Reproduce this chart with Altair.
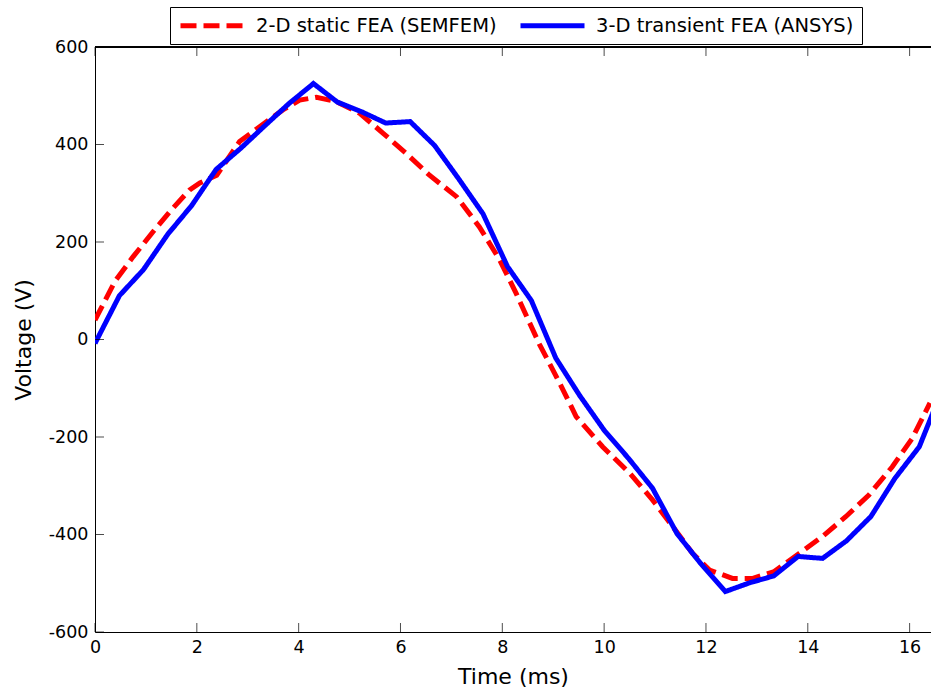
import altair as alt
import pandas as pd

# ---- data ----
SERIES = ["2-D static FEA (SEMFEM)", "3-D transient FEA (ANSYS)"]

t_red = [0.0, 0.39, 0.75, 1.14, 1.50, 1.86, 2.06, 2.39, 2.84, 3.24, 3.69, 4.02, 4.35,
         4.74, 5.20, 5.66, 6.11, 6.57, 7.10, 7.55, 7.95, 8.27, 8.73, 9.12, 9.45, 9.97,
         10.50, 10.95, 11.35, 11.74, 12.07, 12.52, 12.92, 13.34, 13.83, 14.29, 14.75,
         15.20, 15.66, 16.05, 16.40]
v_red = [40, 119, 170, 221, 266, 307, 321, 337, 406, 437, 471, 491, 497,
         488, 464, 423, 382, 337, 293, 231, 163, 95, -10, -88, -158, -220,
         -274, -329, -384, -439, -473, -490, -490, -476, -439, -404, -363,
         -319, -261, -203, -130]

t_blue = [0.0, 0.48, 0.95, 1.43, 1.90, 2.38, 2.86, 3.33, 3.81, 4.29, 4.76, 5.24,
          5.71, 6.19, 6.67, 7.14, 7.62, 8.10, 8.57, 9.05, 9.52, 10.0, 10.48, 10.95,
          11.43, 11.90, 12.38, 12.86, 13.33, 13.81, 14.29, 14.76, 15.24, 15.71,
          16.19, 16.67]
v_blue = [-8, 90, 143, 216, 275, 349, 392, 438, 484, 525, 487, 467,
          444, 447, 398, 330, 258, 150, 80, -38, -115, -186, -244, -305,
          -398, -460, -517, -499, -485, -445, -449, -413, -363, -285,
          -220, -95]

x_ticks = [0, 2, 4, 6, 8, 10, 12, 14, 16]
y_ticks = [-600, -400, -200, 0, 200, 400, 600]

FONT = "DejaVu Sans"

df = pd.DataFrame(
    {"t": t_red + t_blue,
     "v": v_red + v_blue,
     "series": [SERIES[0]] * len(t_red) + [SERIES[1]] * len(t_blue)}
)
df_xt = pd.DataFrame({"t": x_ticks})
df_yt = pd.DataFrame({"v": y_ticks})

xscale = alt.Scale(domain=[0, 16.42], nice=False, zero=False)
yscale = alt.Scale(domain=[-600, 600], nice=False, zero=False)

HYPHEN = "replace(datum.label, '\u2212', '-')"

# long horizontal legend line: unit path scaled by sqrt(size)/2 = 8 -> 0..64 px
legend = alt.Legend(
    orient="none", legendX=75, legendY=-40, direction="horizontal", title=None,
    symbolType="M-1,0H7", symbolSize=256, symbolStrokeWidth=5,
    labelFont=FONT, labelFontSize=19.5, labelColor="black", labelLimit=0,
    labelOffset=57, columnPadding=13, padding=8,
    strokeColor="black", fillColor="white",
)

lines = alt.Chart(df).mark_line(strokeWidth=5, clip=True, strokeJoin="miter").encode(
    x=alt.X("t:Q", scale=xscale,
            axis=alt.Axis(title="Time (ms)", values=x_ticks, ticks=False, tickSize=0,
                          labelPadding=6, grid=False, labelFlush=False,
                          titleY=51.5, titleBaseline="alphabetic")),
    y=alt.Y("v:Q", scale=yscale,
            axis=alt.Axis(title="Voltage (V)", values=y_ticks, ticks=False, tickSize=0,
                          labelPadding=7, grid=False, labelFlush=False, labelExpr=HYPHEN,
                          titleX=-72, titleBaseline="middle", titleAngle=-90)),
    color=alt.Color("series:N", scale=alt.Scale(domain=SERIES, range=["#ff0000", "#0000ff"]),
                    legend=legend),
    strokeDash=alt.StrokeDash("series:N",
                              scale=alt.Scale(domain=SERIES, range=[[16, 7], [1, 0]]),
                              legend=legend),
)

tick_style = dict(color="black", thickness=1, size=9)

xt_bottom = alt.Chart(df_xt).mark_tick(orient="vertical", yOffset=-4.5, **tick_style).encode(
    x=alt.X("t:Q", scale=xscale), y=alt.datum(-600)
)
xt_top = alt.Chart(df_xt).mark_tick(orient="vertical", yOffset=4.5, **tick_style).encode(
    x=alt.X("t:Q", scale=xscale), y=alt.datum(600)
)
yt_left = alt.Chart(df_yt).mark_tick(orient="horizontal", xOffset=4.5, **tick_style).encode(
    y=alt.Y("v:Q", scale=yscale), x=alt.datum(0)
)
top_line = alt.Chart(df_yt).mark_rule(color="black", strokeWidth=1).encode(
    y=alt.datum(600)
)

chart = alt.layer(lines, xt_bottom, xt_top, yt_left, top_line).properties(
    width=836, height=585,
    autosize=alt.AutoSizeParams(type="none"),
    padding={"left": 95, "top": 47, "right": 0, "bottom": 61},
    background="white",
).configure_view(stroke=None).configure_axis(
    labelFont=FONT, labelFontSize=17.5, labelColor="black",
    titleFont=FONT, titleFontSize=22, titleColor="black", titleFontWeight="normal",
    domainColor="black", domainWidth=1,
)

chart.save("out.html", embed_options={"renderer": "svg", "actions": False})
